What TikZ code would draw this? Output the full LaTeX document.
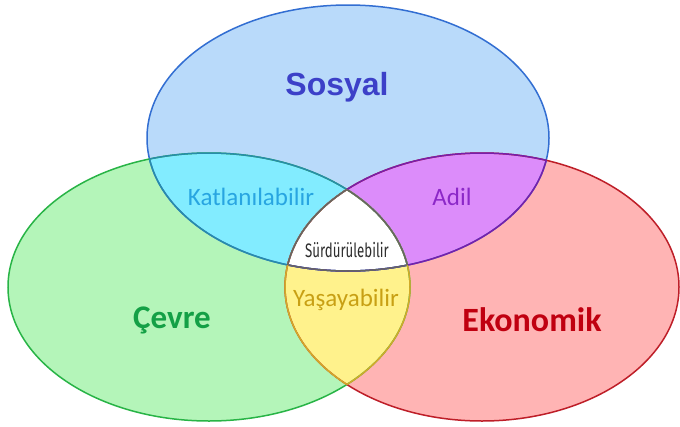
\documentclass[tikz,border=0pt]{standalone}
\usepackage{fontspec}
\usepackage{graphicx}
\newfontfamily\arialf{Liberation Sans}
\newfontfamily\calf{Carlito}
\newfontfamily\condf{Fira Sans}
\definecolor{bluefill}{RGB}{185,218,250}
\definecolor{greenfill}{RGB}{180,245,185}
\definecolor{redfill}{RGB}{255,180,180}
\definecolor{cyanfill}{RGB}{130,236,255}
\definecolor{purplefill}{RGB}{220,140,250}
\definecolor{yellowfill}{RGB}{255,242,140}
\definecolor{blueline}{RGB}{50,110,210}
\definecolor{greenline}{RGB}{40,180,70}
\definecolor{redline}{RGB}{190,30,40}
\definecolor{tealline}{RGB}{40,140,170}
\definecolor{purpleline}{RGB}{120,30,170}
\definecolor{goldline}{RGB}{210,170,40}
\definecolor{grayline}{RGB}{100,100,100}
\definecolor{sosyaltxt}{RGB}{60,64,200}
\definecolor{cevretxt}{RGB}{20,160,70}
\definecolor{ekotxt}{RGB}{192,0,16}
\definecolor{kattxt}{RGB}{40,165,225}
\definecolor{adiltxt}{RGB}{140,40,200}
\definecolor{yastxt}{RGB}{200,160,20}
\definecolor{surtxt}{RGB}{45,45,45}
\def\blueE{(348,138) ellipse [x radius=201pt, y radius=133pt]}
\def\greenE{(209,287) ellipse [x radius=201pt, y radius=134pt]}
\def\redE{(482,287) ellipse [x radius=197pt, y radius=134pt]}
\begin{document}
\begin{tikzpicture}[x=1pt,y=-1pt,
  outline/.style={line width=1.5pt},
  bigtxt/.style={font=\arialf\bfseries\fontsize{32}{36}\selectfont},
  midtxt/.style={font=\calf\fontsize{25}{28}\selectfont}]
\useasboundingbox[fill=white] (0,0) rectangle (680,426);
% base fills
\fill[bluefill] \blueE;
\fill[greenfill] \greenE;
\fill[redfill] \redE;
% pairwise intersections
\begin{scope}\clip \blueE; \fill[cyanfill] \greenE; \end{scope}
\begin{scope}\clip \blueE; \fill[purplefill] \redE; \end{scope}
\begin{scope}\clip \greenE; \fill[yellowfill] \redE; \end{scope}
\begin{scope}\clip \blueE; \clip \greenE; \fill[white] \redE; \end{scope}
% outlines
\draw[outline,blueline] \blueE;
\draw[outline,greenline] \greenE;
\draw[outline,redline] \redE;
% blue outline segments
\begin{scope}\clip \greenE; \draw[outline,tealline] \blueE; \end{scope}
\begin{scope}\clip \redE; \draw[outline,purpleline] \blueE; \end{scope}
\begin{scope}\clip \greenE; \clip \redE; \draw[outline,grayline] \blueE; \end{scope}
% green outline segments
\begin{scope}\clip \blueE; \draw[outline,tealline] \greenE; \end{scope}
\begin{scope}\clip \redE; \draw[outline,goldline] \greenE; \end{scope}
\begin{scope}\clip \blueE; \clip \redE; \draw[outline,grayline] \greenE; \end{scope}
% red outline segments
\begin{scope}\clip \blueE; \draw[outline,purpleline] \redE; \end{scope}
\begin{scope}\clip \greenE; \draw[outline,goldline] \redE; \end{scope}
\begin{scope}\clip \blueE; \clip \greenE; \draw[outline,grayline] \redE; \end{scope}
% labels
\node[bigtxt,text=sosyaltxt] (sosyal) at (337,87) {Sosyal};
\node[font=\calf\bfseries\fontsize{33}{36}\selectfont,text=cevretxt] (cevre) at (172,320) {Çevre};
\node[font=\calf\bfseries\fontsize{34}{38}\selectfont,text=ekotxt] (eko) at (532,320) {Ekonomik};
\node[midtxt,text=kattxt] (kat) at (251,197) {Katlanılabilir};
\node[midtxt,text=adiltxt] (adil) at (452,197) {Adil};
\node[midtxt,text=yastxt] (yas) at (346,300) {Yaşayabilir};
\node[font=\condf\fontsize{19.5}{22}\selectfont,text=surtxt] (sur) at (347,250) {\scalebox{0.68}[1]{Sürdürülebilir}};
\end{tikzpicture}
\end{document}
